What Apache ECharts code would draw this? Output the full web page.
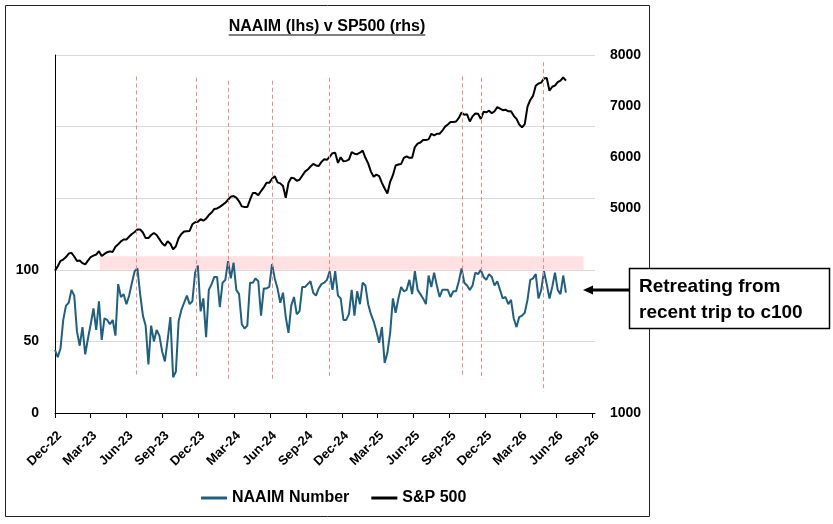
<!DOCTYPE html>
<html>
<head>
<meta charset="utf-8">
<script src="https://cdn.jsdelivr.net/npm/echarts@6/dist/echarts.min.js"></script>
<style>
  html, body { margin: 0; padding: 0; background: #fff; }
  #chart { width: 833px; height: 524px; }
</style>
</head>
<body>
<div id="chart"></div>
<script>
const FONT = '"Liberation Sans", Arial, sans-serif';

// weekly readings, first point on 1 Dec 2022
const startDate = '2022-12-01';

const naaim = [
  44, 39, 45, 65, 75, 77, 86, 82, 57, 47, 60, 41, 52, 62, 73, 58, 78, 51, 66, 65,
  62, 65, 54, 90, 81, 83, 76, 82, 91, 99, 101, 83, 68, 61, 34, 61, 50, 58, 54, 43,
  36, 51, 67, 25, 29, 64, 72, 77, 82, 76, 78, 98, 103, 71, 80, 53, 86, 90, 95, 95,
  74, 91, 93, 106, 94, 105, 86, 83, 62, 59, 61, 91, 91, 94, 92, 68, 87, 87, 88, 104,
  94, 87, 77, 84, 67, 56, 75, 81, 69, 71, 88, 88, 90, 92, 84, 82, 87, 90, 91, 93,
  99, 86, 99, 82, 80, 65, 65, 69, 86, 68, 85, 76, 91, 89, 76, 69, 64, 57, 49, 60,
  35, 42, 56, 80, 70, 80, 88, 85, 86, 93, 83, 99, 86, 83, 80, 76, 96, 88, 98, 89,
  81, 86, 86, 86, 81, 85, 85, 92, 101, 91, 89, 86, 89, 98, 97, 100, 95, 93, 97, 95,
  89, 92, 86, 80, 81, 76, 79, 66, 60, 67, 68, 70, 79, 93, 94, 97, 80, 86, 99, 90,
  80, 88, 98, 86, 83, 96, 84
];

const spx = [
  3784, 3870, 3975, 4000, 4050, 4118, 4131, 4060, 3970, 3980, 3930, 3905, 3980, 4050, 4078, 4098, 4163, 4070, 4110, 4144,
  4160, 4150, 4250, 4300, 4355, 4392, 4392, 4450, 4500, 4540, 4588, 4588, 4530, 4420, 4420, 4480, 4520, 4480, 4400, 4320,
  4270, 4360, 4310, 4200, 4260, 4420, 4500, 4550, 4556, 4560, 4690, 4730, 4740, 4790, 4760, 4800, 4870, 4920, 4990, 5000,
  5030, 5070, 5110, 5170, 5230, 5242, 5210, 5140, 5040, 5030, 5026, 5170, 5300, 5300, 5260, 5340, 5410, 5500, 5500, 5580,
  5630, 5510, 5490, 5440, 5209, 5503, 5600, 5590, 5540, 5560, 5640, 5720, 5760, 5820, 5870, 5840, 5830, 5910, 5960, 5950,
  6010, 6080, 6090, 5890, 6000, 5920, 5930, 5955, 6100, 6070, 6060, 6090, 6130, 5990, 5880, 5720, 5620, 5660, 5630, 5500,
  5390, 5290, 5520, 5650, 5840, 5860, 5870, 5990, 6020, 5990, 5990, 6200, 6268, 6290, 6340, 6340, 6350, 6460, 6430, 6460,
  6460, 6520, 6600, 6640, 6690, 6690, 6700, 6770, 6876, 6830, 6840, 6700, 6800, 6856, 6850, 6750, 6890, 6880, 6910, 6860,
  6900, 6980, 6950, 6920, 6930, 6900, 6900, 6810, 6750, 6640, 6585, 6650, 6990, 7120, 7200, 7400, 7444, 7460, 7540, 7550,
  7300, 7380, 7400, 7470, 7497, 7560, 7500
];

const quarterTicks = [
  '2022-12-01', '2023-03-01', '2023-06-01', '2023-09-01', '2023-12-01', '2024-03-01',
  '2024-06-01', '2024-09-01', '2024-12-01', '2025-03-01', '2025-06-01', '2025-09-01',
  '2025-12-01', '2026-03-01', '2026-06-01', '2026-09-01'
];

// red dashed markers at the NAAIM peaks near 100
const peakDates  = ['2023-06-26', '2023-11-27', '2024-02-15', '2024-06-07', '2024-10-29', '2025-10-03', '2025-11-20', '2026-04-28'];
const peakTop    = [235, 234, 232, 232, 234, 235, 234, 245];
const peakBottom = [25, 24.5, 22.5, 23, 24.5, 25, 23.5, 15];

const bandStart = '2023-03-25';
const bandEnd   = '2026-08-09';
const bandRange = [100, 109.5];

const leftLabels  = [0, 50, 100];
const rightLabels = [1000, 5000, 6000, 7000, 8000];
const MONTHS = ['Jan','Feb','Mar','Apr','May','Jun','Jul','Aug','Sep','Oct','Nov','Dec'];

function toTime(s) {
  const [y, m, d] = s.split('-').map(Number);
  return Date.UTC(y, m - 1, d);
}

const t0 = toTime(startDate);
const WEEK = 7 * 86400000;
const naaimData = naaim.map((v, i) => [t0 + i * WEEK, v]);
const spxData   = spx.map((v, i) => [t0 + i * WEEK, v]);
const tickTimes = quarterTicks.map(toTime);

// width of the title, for the underline
const TITLE = 'NAAIM (lhs) v SP500 (rhs)';
const ctx = document.createElement('canvas').getContext('2d');
ctx.font = 'bold 16px ' + FONT;
const titleW = ctx.measureText(TITLE).width;

const chart = echarts.init(document.getElementById('chart'));
chart.setOption({
  animation: false,
  textStyle: { fontFamily: FONT },
  grid: { left: 55, right: 238, top: 55, bottom: 111 },
  legend: {
    data: ['NAAIM Number', 'S&P 500'],
    left: 196, top: 485,
    icon: 'rect', itemWidth: 26, itemHeight: 3, itemGap: 22,
    textStyle: { fontFamily: FONT, fontWeight: 'bold', fontSize: 16, color: '#000' }
  },
  xAxis: {
    type: 'value',
    min: t0,
    max: toTime('2026-09-07'),
    axisLine: { lineStyle: { color: '#000', width: 1 } },
    axisTick: { show: true, length: 5, customValues: tickTimes, lineStyle: { color: '#000' } },
    axisLabel: {
      customValues: tickTimes,
      rotate: 45, margin: 16, verticalAlign: 'top',
      fontFamily: FONT, fontWeight: 'bold', fontSize: 13, color: '#000',
      formatter: v => {
        const d = new Date(v);
        return MONTHS[d.getUTCMonth()] + '-' + String(d.getUTCFullYear()).slice(2);
      }
    },
    splitLine: { show: false }
  },
  yAxis: [{
    type: 'value', min: 0, max: 250, interval: 50,
    axisLine: { show: true, lineStyle: { color: '#000', width: 1 } },
    axisTick: { show: false },
    axisLabel: {
      margin: 16, fontFamily: FONT, fontWeight: 'bold', fontSize: 14, color: '#000',
      formatter: v => leftLabels.includes(v) ? String(v) : ''
    },
    splitLine: { lineStyle: { color: '#d9d9d9', width: 1 } }
  }, {
    type: 'value', min: 1000, max: 8000, interval: 1000,
    axisLine: { show: false },
    axisTick: { show: false },
    axisLabel: {
      margin: 15, fontFamily: FONT, fontWeight: 'bold', fontSize: 14, color: '#000',
      formatter: v => rightLabels.includes(v) ? String(v) : ''
    },
    splitLine: { show: false }
  }],
  series: [{
    name: 'NAAIM Number',
    type: 'line', yAxisIndex: 0, z: 2,
    data: naaimData,
    showSymbol: false, symbol: 'none',
    lineStyle: { color: '#1f5f7f', width: 2 },
    itemStyle: { color: '#1f5f7f' },
    markArea: {
      silent: true,
      itemStyle: { color: '#ffe1e4' },
      data: [[{ coord: [toTime(bandStart), bandRange[0]] }, { coord: [toTime(bandEnd), bandRange[1]] }]]
    }
  }, {
    name: 'S&P 500',
    type: 'line', yAxisIndex: 1, z: 3,
    data: spxData,
    showSymbol: false, symbol: 'none',
    lineStyle: { color: '#000', width: 2 },
    itemStyle: { color: '#000' }
  }, {
    name: 'peaks',
    type: 'line', yAxisIndex: 0, z: 5,
    data: [],
    markLine: {
      silent: true, symbol: 'none', label: { show: false },
      lineStyle: { color: '#f08a8a', width: 1, type: [4, 3] },
      data: peakDates.map((d, i) => [
        { coord: [toTime(d), peakTop[i]] },
        { coord: [toTime(d), peakBottom[i]] }
      ])
    }
  }],
  graphic: [
    {
      type: 'rect', silent: true, z: 0,
      shape: { x: 5.5, y: 5.5, width: 644, height: 511 },
      style: { fill: 'none', stroke: '#222', lineWidth: 1 }
    },
    {
      type: 'text', silent: true,
      style: {
        text: TITLE, x: 327, y: 27, align: 'center', verticalAlign: 'middle',
        font: 'bold 16px ' + FONT, fill: '#000'
      }
    },
    {
      type: 'line', silent: true,
      shape: { x1: 327 - titleW / 2, y1: 35, x2: 327 + titleW / 2, y2: 35 },
      style: { stroke: '#000', lineWidth: 1.2 }
    },
    {
      type: 'line', silent: true,
      shape: { x1: 629, y1: 290, x2: 591, y2: 290 },
      style: { stroke: '#000', lineWidth: 3 }
    },
    {
      type: 'polygon', silent: true,
      shape: { points: [[583, 290], [593, 285.5], [593, 294.5]] },
      style: { fill: '#000' }
    },
    {
      type: 'rect', silent: true, z: 10,
      shape: { x: 629.5, y: 268.5, width: 200, height: 60 },
      style: { fill: '#fff', stroke: '#000', lineWidth: 1.5 }
    },
    {
      type: 'text', silent: true, z: 11,
      style: {
        text: 'Retreating from', x: 639, y: 286.5, verticalAlign: 'middle',
        font: 'bold 19px ' + FONT, fill: '#000'
      }
    },
    {
      type: 'text', silent: true, z: 11,
      style: {
        text: 'recent trip to c100', x: 639, y: 312.5, verticalAlign: 'middle',
        font: 'bold 19px ' + FONT, fill: '#000'
      }
    }
  ]
});
</script>
</body>
</html>
